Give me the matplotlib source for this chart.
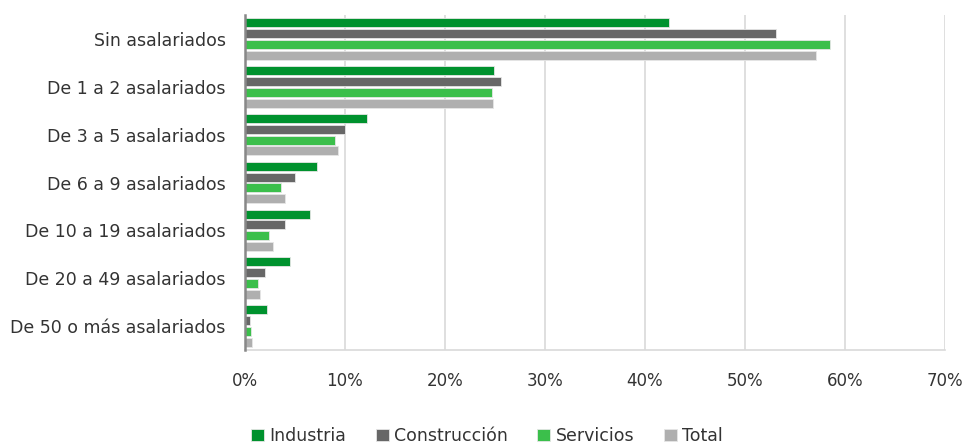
import matplotlib.pyplot as plt
import numpy as np
from matplotlib.ticker import PercentFormatter

plt.rcParams['font.family'] = ['DejaVu Sans']

categorias = ["Sin asalariados", "De 1 a 2 asalariados", "De 3 a 5 asalariados",
              "De 6 a 9 asalariados", "De 10 a 19 asalariados", "De 20 a 49 asalariados",
              "De 50 o más asalariados"]
industria = [42.4, 24.9, 12.2, 7.2, 6.5, 4.5, 2.2]
construccion = [53.1, 25.6, 10.0, 5.0, 4.0, 2.0, 0.5]
servicios = [58.5, 24.7, 9.0, 3.6, 2.4, 1.3, 0.6]
total = [57.1, 24.8, 9.3, 4.0, 2.8, 1.5, 0.7]

series = [("Industria", industria, "#00922e"),
          ("Construcción", construccion, "#676767"),
          ("Servicios", servicios, "#3bbf4b"),
          ("Total", total, "#afafaf")]

fig = plt.figure(figsize=(9.74, 4.45), dpi=100)
ax = fig.add_axes([245 / 974, 1 - 350 / 445, 700 / 974, 335 / 445])

y = np.arange(len(categorias))
pitch = 0.227
for i, (nombre, vals, color) in enumerate(series):
    ax.barh(y + (i - 1.5) * pitch, vals, height=0.19, color=color, label=nombre,
            edgecolor="#e6e6e6", linewidth=0.6, zorder=3)

ax.set_yticks(y)
ax.set_yticklabels(categorias, fontsize=12.5, color="#333333")
ax.set_ylim(len(categorias) - 0.5, -0.5)
ax.set_xlim(0, 70)
ax.set_xticks(np.arange(0, 71, 10))
ax.xaxis.set_major_formatter(PercentFormatter(decimals=0))
ax.tick_params(axis="x", length=0, pad=16, labelsize=12, labelcolor="#333333")
ax.tick_params(axis="y", length=0, pad=14)
ax.grid(axis="x", color="#d9d9d9", linewidth=1.2, zorder=0)
for s in ["top", "right"]:
    ax.spines[s].set_visible(False)
ax.spines["bottom"].set_color("#d9d9d9")
ax.spines["bottom"].set_linewidth(1.2)
ax.spines["left"].set_color("#888888")
ax.spines["left"].set_linewidth(1.8)
ax.spines["left"].set_zorder(4)

fig.legend(loc="center", bbox_to_anchor=(0.5, 1 - 436 / 445), ncol=4, frameon=False,
           fontsize=12.5, handlelength=0.75, handleheight=0.75, handletextpad=0.3,
           columnspacing=1.7, labelcolor="#333333")

fig.savefig("out.png", dpi=100)
